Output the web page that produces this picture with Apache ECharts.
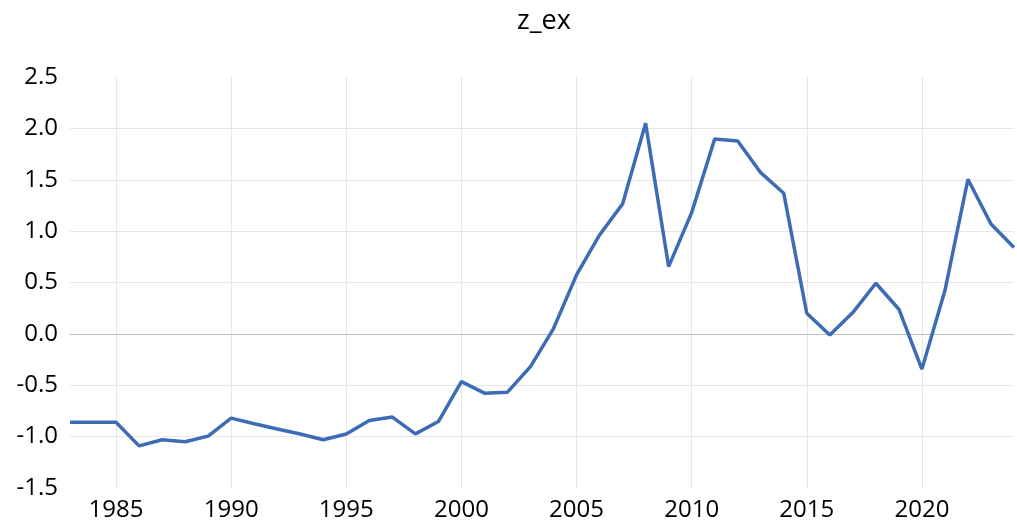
<!DOCTYPE html>
<html>
<head>
<meta charset="utf-8">
<script src="https://cdn.jsdelivr.net/npm/echarts@6/dist/echarts.min.js"></script>
<style>
html,body{margin:0;padding:0;background:#fff;}
#chart{width:1017px;height:522px;}
</style>
</head>
<body>
<div id="chart"></div>
<script>
var years = [1983,1984,1985,1986,1987,1988,1989,1990,1991,1992,1993,1994,1995,1996,1997,1998,1999,2000,2001,2002,2003,2004,2005,2006,2007,2008,2009,2010,2011,2012,2013,2014,2015,2016,2017,2018,2019,2020,2021,2022,2023,2024];
var zEx = [-0.86,-0.86,-0.86,-1.09,-1.03,-1.05,-0.995,-0.82,-0.875,-0.925,-0.975,-1.03,-0.975,-0.843,-0.81,-0.973,-0.853,-0.465,-0.577,-0.567,-0.318,0.052,0.574,0.963,1.265,2.05,0.655,1.18,1.897,1.877,1.569,1.368,0.201,-0.01,0.207,0.493,0.24,-0.343,0.421,1.505,1.07,0.84];
var yTicks = [-1.5,-1.0,-0.5,0.0,0.5,1.0,1.5,2.0,2.5];
var titleText = 'z_ex';

var chart = echarts.init(document.getElementById('chart'), null, {renderer:'canvas'});
var font = '"Open Sans", "Noto Sans", sans-serif';
chart.setOption({
  animation: false,
  backgroundColor: '#fff',
  title: {
    text: titleText,
    left: 512,
    top: 3,
    textStyle: {fontFamily: font, fontSize: 27, fontWeight: 'normal', color: '#000'}
  },
  grid: {left: 70, right: 3, top: 77, bottom: 34, containLabel: false},
  xAxis: {
    type: 'category',
    data: years.map(String),
    boundaryGap: false,
    axisLine: {show: true, onZero: true, lineStyle: {color: '#bfbfbf', width: 1}},
    axisTick: {show: false},
    axisLabel: {
      interval: function (i, v) { return Number(v) % 5 === 0; },
      fontFamily: font, fontSize: 24, color: '#000', margin: 10
    },
    splitLine: {
      show: true,
      interval: function (i, v) { return Number(v) % 5 === 0; },
      lineStyle: {color: '#e6e6e6', width: 1}
    }
  },
  yAxis: {
    type: 'value',
    min: yTicks[0],
    max: yTicks[yTicks.length - 1],
    interval: 0.5,
    axisLine: {show: false},
    axisTick: {show: false},
    axisLabel: {
      fontFamily: font, fontSize: 24, color: '#000', margin: 12,
      formatter: function (v) { return v.toFixed(1); }
    },
    splitLine: {show: true, showMinLine: false, showMaxLine: false, lineStyle: {color: '#e6e6e6', width: 1}}
  },
  series: [{
    type: 'line',
    data: zEx,
    symbol: 'none',
    lineStyle: {color: '#3d6cb5', width: 3.5},
    itemStyle: {color: '#3d6cb5'}
  }]
});
</script>
</body>
</html>
